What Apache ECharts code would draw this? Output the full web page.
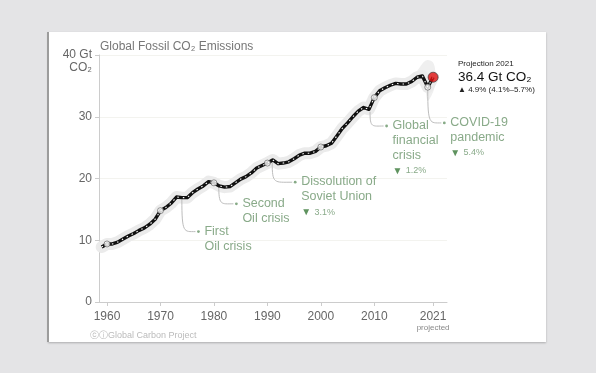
<!DOCTYPE html>
<html><head><meta charset="utf-8">
<script src="https://cdn.jsdelivr.net/npm/echarts@6/dist/echarts.min.js"></script>
<style>html,body{margin:0;padding:0;background:#e4e4e6;}#c{width:596px;height:373px;}</style>
</head><body><div id="c"></div>
<script>
const years = [1959,1960,1961,1962,1963,1964,1965,1966,1967,1968,1969,1970,1971,1972,1973,1974,1975,1976,1977,1978,1979,1980,1981,1982,1983,1984,1985,1986,1987,1988,1989,1990,1991,1992,1993,1994,1995,1996,1997,1998,1999,2000,2001,2002,2003,2004,2005,2006,2007,2008,2009,2010,2011,2012,2013,2014,2015,2016,2017,2018,2019,2020];
const emissions = [8.9,9.4,9.4,9.7,10.2,10.7,11.1,11.6,12.0,12.6,13.4,14.8,15.3,16.0,17.0,16.9,16.9,17.7,18.3,18.8,19.5,19.3,18.8,18.6,18.7,19.3,19.9,20.3,20.9,21.7,22.1,22.5,23.0,22.4,22.5,22.7,23.2,23.8,24.1,24.1,24.4,25.1,25.3,25.7,26.9,28.1,29.0,30.0,30.9,31.5,31.2,33.1,34.2,34.7,35.1,35.4,35.3,35.3,35.7,36.4,36.6,34.8];
const projYear = 2021;
const projValue = 36.4;
const markerYears = [1960,1970,1980,1990,2000,2010,2020];
const markerValues = [9.4,14.8,19.3,22.5,25.1,33.1,34.8];
const fanYears = [2016.5,2018.0,2019.3,2020,2021,2021.4];
const fanLow = [34.6,35.4,35.2,32.6,34.0,35.5];
const fanHigh = [36.2,37.4,38.9,39.2,38.8,37.5];
const yTicks = [0,10,20,30,40];
const xTickLabels = [1960,1970,1980,1990,2000,2010,2021];
const annStart = [[1974.0,16.6],[1980.9,19.0],[1990.9,22.6],[2009.2,30.8],[2020.0,34.3]];
const annEnd = [[1977.1,11.4],[1984.2,15.9],[1995.2,19.4],[2012.3,28.5],[2023.1,29.0]];
const annText = [['First','Oil crisis'],['Second','Oil crisis'],['Dissolution of','Soviet Union'],['Global','financial','crisis'],['COVID-19','pandemic']];
const annPct = ['','','3.1%','1.2%','5.4%'];

const FONT = 'Liberation Sans, Arial, Helvetica, sans-serif';
const lineData = years.map((y,i)=>[y, emissions[i]]).concat([[projYear, projValue]]);
const chart = echarts.init(document.getElementById('c'), null, {renderer:'canvas'});
chart.setOption({
  backgroundColor: '#e4e4e6',
  animation: false,
  textStyle: {fontFamily: FONT},
  graphic: [
    {type:'rect', z:-10, shape:{x:48,y:32,width:498,height:310}, style:{fill:'#ffffff', shadowColor:'rgba(0,0,0,0.25)', shadowBlur:2, shadowOffsetY:1}},
    {type:'rect', z:-9, shape:{x:47,y:32,width:2,height:310}, style:{fill:'#9c9c9c'}},
    {type:'text', z:10, left:100, top:41, style:{text:'Global Fossil CO₂ Emissions', fill:'#777', font:'12px '+FONT}},
    {type:'text', z:10, right:596-92, top:62, style:{text:'CO₂', fill:'#666', font:'12px '+FONT, align:'right'}},
    {type:'text', z:10, left:458, top:60, style:{text:'Projection 2021', fill:'#222', font:'8px '+FONT}},
    {type:'text', z:10, left:458, top:70, style:{text:'36.4 Gt CO₂', fill:'#111', font:'13.5px '+FONT}},
    {type:'text', z:10, left:458, top:86, style:{text:'▲ 4.9% (4.1%–5.7%)', fill:'#222', font:'8px '+FONT}},
    {type:'text', z:10, left:90, top:331, style:{text:'ⓒⓘGlobal Carbon Project', fill:'#bbb', font:'9px '+FONT}}
  ],
  grid: {left:99, right:149, top:55, bottom:71, containLabel:false},
  xAxis: {
    type:'value', min:1958.5, max:2023.6,
    axisLine:{lineStyle:{color:'#ccc'}},
    axisTick:{show:true, length:4, lineStyle:{color:'#ccc'}, customValues: xTickLabels},
    splitLine:{show:false},
    axisLabel:{customValues: xTickLabels, color:'#666', fontSize:12, margin:9,
      formatter: v => v===2021 ? '2021\n{p|projected}' : String(v),
      rich:{p:{fontSize:8, color:'#888', lineHeight:9}}}
  },
  yAxis: {
    type:'value', min:0, max:40, interval:10,
    axisLine:{show:true, lineStyle:{color:'#ccc'}},
    axisTick:{show:true, length:4, lineStyle:{color:'#ccc'}},
    splitLine:{show:true, lineStyle:{color:'#f3f3ef'}},
    axisLabel:{color:'#666', fontSize:12, margin:7, formatter: v => v===40 ? '40 Gt' : String(v)}
  },
  series: [
    {type:'custom', z:1, silent:true, clip:false,
      data:[[fanYears[0], fanLow[0]]],
      renderItem:(params, api)=>{
        const pts = [];
        fanYears.forEach((y,i)=>pts.push(api.coord([y, fanHigh[i]])));
        for (let i=fanYears.length-1;i>=0;i--) pts.push(api.coord([fanYears[i], fanLow[i]]));
        return {type:'polygon', shape:{points:pts, smooth:0.3}, style:{fill:'#efefef'}};
      }},
    {type:'line', z:2, data: lineData, showSymbol:false, silent:true,
      lineStyle:{color:'#ebebeb', width:12, cap:'round', join:'round'}},
    {type:'custom', z:3, silent:true, clip:false,
      encode:{x:[0,2], y:[1,3]},
      data: annStart.map((s,i)=>[s[0], s[1], annEnd[i][0], annEnd[i][1], i]),
      renderItem:(params, api)=>{
        const p0 = api.coord([api.value(0), api.value(1)]);
        const p1 = api.coord([api.value(2), api.value(3)]);
        const i = api.value(4);
        const lines = annText[i];
        const children = [
          {type:'bezierCurve', shape:{x1:p0[0], y1:p0[1], x2:p1[0]-3, y2:p1[1], cpx1:p0[0], cpy1:p1[1]+2, cpx2:p0[0]+2, cpy2:p1[1]}, style:{stroke:'#bdbdbd', lineWidth:1, fill:null}},
          {type:'circle', shape:{cx:p1[0], cy:p1[1], r:1.4}, style:{fill:'#86aa86'}},
          {type:'text', x:p1[0]+6, y:p1[1]-8, style:{text:lines.join('\n'), fill:'#89aa89', font:'12.5px '+FONT, lineHeight:15, verticalAlign:'top'}}
        ];
        if (annPct[i]) {
          children.push({type:'text', x:p1[0]+6, y:p1[1]-8+lines.length*15+2,
            style:{text:'{t|▼} {p|'+annPct[i]+'}', verticalAlign:'top',
              rich:{t:{fill:'#5f935f', fontSize:10, fontFamily:FONT}, p:{fill:'#89aa89', fontSize:9, fontFamily:FONT}}}});
        }
        return {type:'group', children};
      }},
    {type:'line', z:4, data: lineData, showSymbol:false, silent:true,
      lineStyle:{color:'#111', width:3.4, join:'round'}},
    {type:'line', z:5, data: lineData, showSymbol:false, silent:true,
      lineStyle:{color:'#ffffff', width:1.1, type:[1.5,4]}},
    {type:'scatter', z:6, silent:true, data: markerYears.map((y,i)=>[y, markerValues[i]]),
      symbol:'circle', symbolSize:6, itemStyle:{color:'#ffffff', borderColor:'#555', borderWidth:0.8}},
    {type:'scatter', z:7, silent:true, data:[[projYear, projValue]],
      symbol:'circle', symbolSize:10, itemStyle:{color:'#e01010', borderColor:'#333', borderWidth:0.8}}
  ]
});
</script></body></html>
